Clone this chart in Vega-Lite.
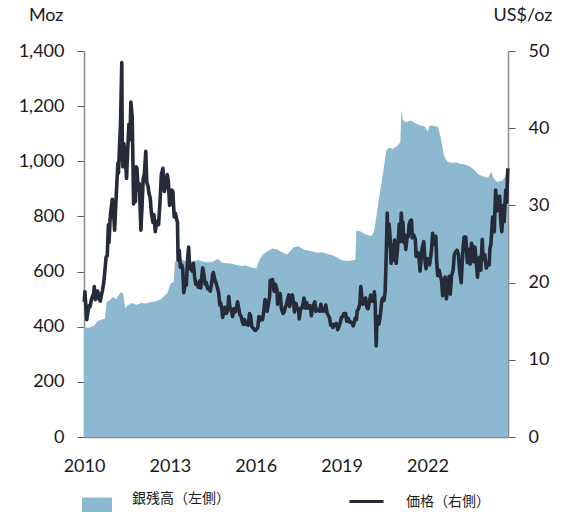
{
"$schema": "https://vega.github.io/schema/vega-lite/v6.json",
"autosize": {"type": "none"},
"padding": {"left": 84, "top": 51, "right": 60, "bottom": 75},
"width": 424,
"height": 386,
"background": "white",
"config": {
 "view": {"stroke": null},
 "font": "Lato",
 "axis": {"labelFont": "Lato", "labelFontSize": 18, "labelColor": "#1a1a1a", "titleFont": "Lato", "titleFontSize": 18, "titleFontWeight": "normal", "titleColor": "#1a1a1a", "grid": false, "domainColor": "#8c8c8c", "domainWidth": 1.5, "tickColor": "#595959", "tickSize": 7, "labelFlush": false, "labelOverlap": false},
 "legend": {"labelFont": "Noto Sans CJK JP", "labelFontSize": 14, "labelColor": "#1a1a1a", "padding": 0}
},
"datasets": {
 "holdings": [
  {"d":"2010-01-01","v":400},{"d":"2010-02-15","v":395},{"d":"2010-04-01","v":400},{"d":"2010-05-15","v":404},{"d":"2010-06-20","v":420},{"d":"2010-08-15","v":426},{"d":"2010-09-25","v":430},{"d":"2010-10-15","v":488},{"d":"2010-11-20","v":495},
  {"d":"2011-01-10","v":508},{"d":"2011-02-15","v":500},{"d":"2011-03-20","v":515},{"d":"2011-04-25","v":527},{"d":"2011-05-20","v":515},{"d":"2011-06-10","v":468},{"d":"2011-07-15","v":478},{"d":"2011-09-01","v":486},{"d":"2011-11-01","v":480},
  {"d":"2012-01-01","v":486},{"d":"2012-03-01","v":484},{"d":"2012-05-01","v":490},{"d":"2012-07-01","v":492},{"d":"2012-09-01","v":498},{"d":"2012-10-15","v":510},{"d":"2012-12-01","v":522},
  {"d":"2013-01-10","v":558},{"d":"2013-02-20","v":562},{"d":"2013-03-05","v":636},{"d":"2013-05-01","v":645},{"d":"2013-07-01","v":640},{"d":"2013-09-01","v":634},{"d":"2013-11-01","v":638},
  {"d":"2014-01-01","v":642},{"d":"2014-03-01","v":636},{"d":"2014-05-01","v":634},{"d":"2014-07-01","v":636},{"d":"2014-09-01","v":646},{"d":"2014-11-01","v":632},
  {"d":"2015-01-01","v":630},{"d":"2015-03-01","v":628},{"d":"2015-05-01","v":624},{"d":"2015-07-01","v":620},{"d":"2015-09-01","v":622},{"d":"2015-11-01","v":616},
  {"d":"2016-01-10","v":612},{"d":"2016-02-15","v":640},{"d":"2016-04-01","v":662},{"d":"2016-06-01","v":675},{"d":"2016-08-01","v":684},{"d":"2016-10-01","v":680},{"d":"2016-12-01","v":670},
  {"d":"2017-02-01","v":662},{"d":"2017-03-20","v":675},{"d":"2017-05-01","v":688},{"d":"2017-07-01","v":692},{"d":"2017-09-01","v":680},{"d":"2017-11-01","v":676},
  {"d":"2018-01-01","v":672},{"d":"2018-03-01","v":668},{"d":"2018-05-01","v":670},{"d":"2018-07-01","v":664},{"d":"2018-09-01","v":660},{"d":"2018-11-01","v":652},
  {"d":"2019-01-01","v":642},{"d":"2019-03-01","v":638},{"d":"2019-05-01","v":640},{"d":"2019-06-25","v":642},{"d":"2019-07-10","v":750},{"d":"2019-09-01","v":745},{"d":"2019-11-01","v":735},
  {"d":"2020-01-15","v":728},{"d":"2020-02-20","v":745},{"d":"2020-03-20","v":800},{"d":"2020-05-01","v":880},{"d":"2020-06-15","v":960},{"d":"2020-07-25","v":1040},{"d":"2020-09-01","v":1050},{"d":"2020-10-15","v":1045},{"d":"2020-12-10","v":1055},
  {"d":"2021-01-20","v":1070},{"d":"2021-02-03","v":1186},{"d":"2021-02-20","v":1150},{"d":"2021-04-01","v":1142},{"d":"2021-06-01","v":1148},{"d":"2021-08-01","v":1138},{"d":"2021-10-01","v":1130},{"d":"2021-12-01","v":1125},
  {"d":"2022-01-01","v":1108},{"d":"2022-02-01","v":1130},{"d":"2022-04-01","v":1128},{"d":"2022-05-15","v":1125},{"d":"2022-06-20","v":1085},{"d":"2022-08-01","v":1020},{"d":"2022-09-10","v":998},{"d":"2022-11-01","v":995},
  {"d":"2023-01-01","v":996},{"d":"2023-03-01","v":990},{"d":"2023-05-01","v":988},{"d":"2023-07-01","v":980},{"d":"2023-08-15","v":970},{"d":"2023-10-15","v":952},{"d":"2023-12-15","v":945},
  {"d":"2024-02-15","v":940},{"d":"2024-03-25","v":962},{"d":"2024-05-01","v":935},{"d":"2024-06-15","v":925},{"d":"2024-08-15","v":930},{"d":"2024-09-20","v":945},{"d":"2024-10-25","v":976}
 ],
 "price": [
  {"d":"2010-01-04","p":17.5},{"d":"2010-01-13","p":18.8},{"d":"2010-01-28","p":16.4},{"d":"2010-02-05","p":15.2},{"d":"2010-02-20","p":16.2},{"d":"2010-03-05","p":17.0},{"d":"2010-03-20","p":16.9},{"d":"2010-04-05","p":17.8},{"d":"2010-04-20","p":18.2},{"d":"2010-05-05","p":18.6},{"d":"2010-05-12","p":19.5},{"d":"2010-05-25","p":17.8},{"d":"2010-06-10","p":18.2},{"d":"2010-06-25","p":18.9},{"d":"2010-07-10","p":17.9},{"d":"2010-07-28","p":17.6},{"d":"2010-08-10","p":18.3},{"d":"2010-08-25","p":19.0},{"d":"2010-09-10","p":20.0},{"d":"2010-09-28","p":21.9},{"d":"2010-10-10","p":23.3},{"d":"2010-10-25","p":23.5},{"d":"2010-11-08","p":27.5},{"d":"2010-11-16","p":25.2},{"d":"2010-11-30","p":28.2},{"d":"2010-12-10","p":29.3},{"d":"2010-12-28","p":30.8},
  {"d":"2011-01-10","p":29.5},{"d":"2011-01-27","p":26.8},{"d":"2011-02-10","p":30.0},{"d":"2011-02-25","p":33.0},{"d":"2011-03-10","p":35.5},{"d":"2011-03-17","p":34.2},{"d":"2011-03-31","p":37.8},{"d":"2011-04-12","p":40.5},{"d":"2011-04-20","p":44.5},{"d":"2011-04-28","p":48.5},{"d":"2011-05-05","p":36.5},{"d":"2011-05-12","p":35.0},{"d":"2011-05-25","p":38.0},{"d":"2011-06-10","p":36.5},{"d":"2011-06-28","p":33.5},{"d":"2011-07-12","p":37.0},{"d":"2011-07-28","p":40.5},{"d":"2011-08-10","p":38.5},{"d":"2011-08-22","p":43.4},{"d":"2011-09-08","p":41.5},{"d":"2011-09-26","p":30.2},{"d":"2011-10-05","p":31.0},{"d":"2011-10-20","p":30.5},{"d":"2011-10-28","p":35.0},{"d":"2011-11-08","p":34.8},{"d":"2011-11-22","p":32.0},{"d":"2011-12-08","p":32.8},{"d":"2011-12-28","p":26.8},
  {"d":"2012-01-10","p":29.5},{"d":"2012-01-27","p":33.5},{"d":"2012-02-10","p":34.0},{"d":"2012-02-28","p":37.0},{"d":"2012-03-12","p":33.0},{"d":"2012-03-28","p":32.5},{"d":"2012-04-10","p":31.5},{"d":"2012-04-25","p":31.0},{"d":"2012-05-10","p":29.0},{"d":"2012-05-30","p":27.8},{"d":"2012-06-12","p":28.8},{"d":"2012-06-28","p":26.6},{"d":"2012-07-12","p":27.5},{"d":"2012-07-30","p":28.0},{"d":"2012-08-10","p":27.5},{"d":"2012-08-28","p":30.5},{"d":"2012-09-14","p":34.0},{"d":"2012-10-04","p":34.8},{"d":"2012-10-22","p":31.8},{"d":"2012-11-08","p":32.5},{"d":"2012-11-28","p":34.0},{"d":"2012-12-12","p":33.2},{"d":"2012-12-28","p":30.0},
  {"d":"2013-01-10","p":30.2},{"d":"2013-01-25","p":32.0},{"d":"2013-02-08","p":31.8},{"d":"2013-02-25","p":28.5},{"d":"2013-03-12","p":29.0},{"d":"2013-03-28","p":28.2},{"d":"2013-04-08","p":27.8},{"d":"2013-04-16","p":22.9},{"d":"2013-04-30","p":24.2},{"d":"2013-05-15","p":22.0},{"d":"2013-05-31","p":22.3},{"d":"2013-06-14","p":21.8},{"d":"2013-06-27","p":18.7},{"d":"2013-07-10","p":19.5},{"d":"2013-07-30","p":19.7},{"d":"2013-08-15","p":23.0},{"d":"2013-08-28","p":24.6},{"d":"2013-09-12","p":21.8},{"d":"2013-09-25","p":21.8},{"d":"2013-10-10","p":21.5},{"d":"2013-10-28","p":22.5},{"d":"2013-11-12","p":20.8},{"d":"2013-11-28","p":19.8},{"d":"2013-12-12","p":19.9},{"d":"2013-12-30","p":19.4},
  {"d":"2014-01-15","p":20.2},{"d":"2014-01-30","p":19.3},{"d":"2014-02-14","p":21.0},{"d":"2014-02-24","p":21.9},{"d":"2014-03-12","p":21.0},{"d":"2014-03-28","p":19.8},{"d":"2014-04-10","p":20.0},{"d":"2014-04-28","p":19.2},{"d":"2014-05-12","p":19.3},{"d":"2014-05-30","p":18.9},{"d":"2014-06-16","p":19.8},{"d":"2014-06-30","p":21.0},{"d":"2014-07-10","p":21.3},{"d":"2014-07-28","p":20.4},{"d":"2014-08-12","p":20.0},{"d":"2014-08-29","p":19.4},{"d":"2014-09-15","p":18.7},{"d":"2014-09-30","p":17.1},{"d":"2014-10-10","p":17.4},{"d":"2014-10-28","p":16.5},{"d":"2014-11-05","p":15.5},{"d":"2014-11-20","p":16.2},{"d":"2014-12-05","p":16.8},{"d":"2014-12-22","p":16.0},
  {"d":"2015-01-10","p":16.4},{"d":"2015-01-22","p":18.2},{"d":"2015-02-06","p":16.8},{"d":"2015-02-25","p":16.5},{"d":"2015-03-12","p":15.6},{"d":"2015-03-31","p":16.6},{"d":"2015-04-15","p":16.2},{"d":"2015-04-28","p":16.6},{"d":"2015-05-15","p":17.5},{"d":"2015-05-29","p":16.7},{"d":"2015-06-12","p":15.9},{"d":"2015-06-30","p":15.6},{"d":"2015-07-15","p":14.9},{"d":"2015-07-28","p":14.6},{"d":"2015-08-14","p":15.2},{"d":"2015-08-26","p":14.6},{"d":"2015-09-10","p":14.6},{"d":"2015-09-30","p":14.5},{"d":"2015-10-14","p":16.0},{"d":"2015-10-28","p":15.7},{"d":"2015-11-12","p":14.3},{"d":"2015-11-30","p":14.1},{"d":"2015-12-14","p":13.9},{"d":"2015-12-30","p":13.8},
  {"d":"2016-01-15","p":14.0},{"d":"2016-01-28","p":14.2},{"d":"2016-02-11","p":15.6},{"d":"2016-02-25","p":15.1},{"d":"2016-03-10","p":15.5},{"d":"2016-03-28","p":15.2},{"d":"2016-04-12","p":16.2},{"d":"2016-04-29","p":17.8},{"d":"2016-05-12","p":17.5},{"d":"2016-05-27","p":16.3},{"d":"2016-06-10","p":17.2},{"d":"2016-06-27","p":18.2},{"d":"2016-07-05","p":20.3},{"d":"2016-07-20","p":19.6},{"d":"2016-08-03","p":20.4},{"d":"2016-08-22","p":18.9},{"d":"2016-09-08","p":19.8},{"d":"2016-09-28","p":19.1},{"d":"2016-10-07","p":17.2},{"d":"2016-10-25","p":17.6},{"d":"2016-11-09","p":18.6},{"d":"2016-11-25","p":16.6},{"d":"2016-12-15","p":16.0},{"d":"2016-12-30","p":16.2},
  {"d":"2017-01-12","p":16.8},{"d":"2017-01-27","p":17.1},{"d":"2017-02-15","p":18.0},{"d":"2017-02-27","p":18.4},{"d":"2017-03-10","p":16.9},{"d":"2017-03-29","p":18.2},{"d":"2017-04-12","p":18.4},{"d":"2017-04-28","p":17.4},{"d":"2017-05-10","p":16.2},{"d":"2017-05-30","p":17.3},{"d":"2017-06-12","p":16.7},{"d":"2017-06-30","p":16.5},{"d":"2017-07-10","p":15.3},{"d":"2017-07-28","p":16.7},{"d":"2017-08-15","p":16.7},{"d":"2017-08-31","p":17.5},{"d":"2017-09-08","p":18.0},{"d":"2017-09-28","p":16.7},{"d":"2017-10-13","p":17.4},{"d":"2017-10-30","p":16.7},{"d":"2017-11-10","p":17.0},{"d":"2017-11-28","p":17.0},{"d":"2017-12-12","p":15.7},{"d":"2017-12-29","p":16.9},
  {"d":"2018-01-12","p":17.2},{"d":"2018-01-25","p":17.5},{"d":"2018-02-08","p":16.3},{"d":"2018-02-22","p":16.5},{"d":"2018-03-08","p":16.5},{"d":"2018-03-28","p":16.3},{"d":"2018-04-11","p":17.2},{"d":"2018-04-30","p":16.3},{"d":"2018-05-15","p":16.3},{"d":"2018-05-30","p":16.4},{"d":"2018-06-14","p":17.1},{"d":"2018-06-29","p":16.1},{"d":"2018-07-13","p":15.8},{"d":"2018-07-30","p":15.5},{"d":"2018-08-15","p":14.5},{"d":"2018-08-30","p":14.6},{"d":"2018-09-12","p":14.2},{"d":"2018-09-28","p":14.6},{"d":"2018-10-12","p":14.5},{"d":"2018-10-26","p":14.7},{"d":"2018-11-13","p":13.9},{"d":"2018-11-28","p":14.3},{"d":"2018-12-12","p":14.7},{"d":"2018-12-31","p":15.5},
  {"d":"2019-01-15","p":15.6},{"d":"2019-01-31","p":16.0},{"d":"2019-02-20","p":16.0},{"d":"2019-02-28","p":15.6},{"d":"2019-03-08","p":15.0},{"d":"2019-03-25","p":15.4},{"d":"2019-04-12","p":14.9},{"d":"2019-04-30","p":14.9},{"d":"2019-05-15","p":14.8},{"d":"2019-05-29","p":14.4},{"d":"2019-06-14","p":14.9},{"d":"2019-06-25","p":15.4},{"d":"2019-07-10","p":15.2},{"d":"2019-07-19","p":16.3},{"d":"2019-08-05","p":16.6},{"d":"2019-08-22","p":17.2},{"d":"2019-09-04","p":19.5},{"d":"2019-09-20","p":17.8},{"d":"2019-10-01","p":17.2},{"d":"2019-10-15","p":17.4},{"d":"2019-11-04","p":18.0},{"d":"2019-11-20","p":16.8},{"d":"2019-12-05","p":16.6},{"d":"2019-12-27","p":17.8},
  {"d":"2020-01-08","p":18.4},{"d":"2020-01-28","p":17.6},{"d":"2020-02-12","p":17.6},{"d":"2020-02-24","p":18.8},{"d":"2020-03-05","p":17.2},{"d":"2020-03-18","p":11.8},{"d":"2020-03-26","p":14.5},{"d":"2020-04-10","p":15.6},{"d":"2020-04-21","p":14.6},{"d":"2020-05-08","p":15.6},{"d":"2020-05-28","p":17.6},{"d":"2020-06-10","p":18.0},{"d":"2020-06-26","p":17.7},{"d":"2020-07-10","p":18.8},{"d":"2020-07-22","p":22.8},{"d":"2020-08-06","p":29.0},{"d":"2020-08-12","p":24.8},{"d":"2020-08-28","p":27.6},{"d":"2020-09-08","p":26.5},{"d":"2020-09-24","p":22.5},{"d":"2020-10-09","p":24.9},{"d":"2020-10-28","p":22.9},{"d":"2020-11-06","p":25.5},{"d":"2020-11-27","p":22.5},{"d":"2020-12-10","p":23.8},{"d":"2020-12-31","p":26.4},
  {"d":"2021-01-06","p":27.6},{"d":"2021-01-19","p":25.3},{"d":"2021-02-01","p":29.0},{"d":"2021-02-12","p":27.3},{"d":"2021-02-22","p":27.8},{"d":"2021-03-05","p":25.2},{"d":"2021-03-17","p":26.2},{"d":"2021-03-31","p":24.3},{"d":"2021-04-15","p":25.8},{"d":"2021-04-30","p":25.9},{"d":"2021-05-12","p":27.5},{"d":"2021-05-28","p":28.0},{"d":"2021-06-11","p":28.1},{"d":"2021-06-21","p":25.8},{"d":"2021-07-07","p":26.2},{"d":"2021-07-30","p":25.6},{"d":"2021-08-09","p":23.4},{"d":"2021-08-27","p":23.9},{"d":"2021-09-10","p":23.8},{"d":"2021-09-29","p":21.5},{"d":"2021-10-14","p":23.3},{"d":"2021-10-26","p":24.5},{"d":"2021-11-15","p":25.3},{"d":"2021-11-30","p":22.9},{"d":"2021-12-14","p":21.8},{"d":"2021-12-30","p":23.1},
  {"d":"2022-01-14","p":23.0},{"d":"2022-01-28","p":22.3},{"d":"2022-02-14","p":23.6},{"d":"2022-02-24","p":24.5},{"d":"2022-03-08","p":26.4},{"d":"2022-03-28","p":24.9},{"d":"2022-04-18","p":26.0},{"d":"2022-04-29","p":22.7},{"d":"2022-05-13","p":20.9},{"d":"2022-05-31","p":21.6},{"d":"2022-06-14","p":20.9},{"d":"2022-06-30","p":20.3},{"d":"2022-07-14","p":18.3},{"d":"2022-07-29","p":20.3},{"d":"2022-08-15","p":20.7},{"d":"2022-08-31","p":17.9},{"d":"2022-09-09","p":18.9},{"d":"2022-09-23","p":18.8},{"d":"2022-10-04","p":20.8},{"d":"2022-10-20","p":18.5},{"d":"2022-11-04","p":20.9},{"d":"2022-11-25","p":21.6},{"d":"2022-12-09","p":23.6},{"d":"2022-12-30","p":24.0},
  {"d":"2023-01-13","p":24.2},{"d":"2023-01-31","p":23.7},{"d":"2023-02-15","p":21.6},{"d":"2023-03-08","p":20.0},{"d":"2023-03-20","p":22.5},{"d":"2023-04-04","p":24.9},{"d":"2023-04-14","p":25.9},{"d":"2023-05-05","p":25.9},{"d":"2023-05-25","p":22.6},{"d":"2023-06-08","p":24.3},{"d":"2023-06-29","p":22.4},{"d":"2023-07-17","p":25.1},{"d":"2023-07-31","p":24.6},{"d":"2023-08-08","p":22.7},{"d":"2023-08-30","p":24.6},{"d":"2023-09-14","p":22.8},{"d":"2023-10-02","p":20.7},{"d":"2023-10-20","p":23.2},{"d":"2023-11-03","p":23.3},{"d":"2023-11-13","p":21.6},{"d":"2023-12-01","p":25.6},{"d":"2023-12-13","p":23.0},
  {"d":"2024-01-02","p":23.6},{"d":"2024-01-22","p":21.9},{"d":"2024-02-09","p":22.5},{"d":"2024-02-28","p":22.3},{"d":"2024-03-08","p":24.4},{"d":"2024-03-21","p":25.0},{"d":"2024-04-12","p":28.5},{"d":"2024-04-23","p":27.2},{"d":"2024-05-03","p":26.6},{"d":"2024-05-20","p":32.0},{"d":"2024-06-07","p":29.3},{"d":"2024-06-20","p":30.9},{"d":"2024-07-10","p":31.2},{"d":"2024-07-25","p":27.9},{"d":"2024-08-07","p":26.6},{"d":"2024-08-26","p":30.0},{"d":"2024-09-06","p":27.9},{"d":"2024-09-26","p":32.0},{"d":"2024-10-08","p":30.4},{"d":"2024-10-22","p":34.8}
 ]
},
"layer": [
 {
  "data": {"name": "holdings"},
  "mark": {"type": "area", "interpolate": "linear"},
  "encoding": {
   "x": {"field": "d", "type": "temporal", "scale": {"type": "utc", "domain": [1262304000000, 1729814400000], "nice": false},
     "axis": {"title": null, "values": [1262304000000, 1356998400000, 1451606400000, 1546300800000, 1640995200000], "format": "%Y", "ticks": false, "tickSize": 0, "labelPadding": 20}},
   "y": {"field": "v", "type": "quantitative", "scale": {"domain": [0, 1400], "nice": false},
     "axis": {"orient": "left", "values": [0, 200, 400, 600, 800, 1000, 1200, 1400], "format": ",.0f", "title": "Moz", "titleAngle": 0, "titleAlign": "right", "titleBaseline": "middle", "titleX": -21, "titleY": -36, "labelPadding": 13}},
   "fill": {"datum": "銀残高（左側）", "type": "nominal", "scale": {"range": ["#8db9d0"]},
     "legend": {"title": null, "orient": "none", "legendX": -2, "legendY": 433, "symbolType": "M-1,-0.1H1V1.1H-1Z", "symbolSize": 900, "symbolStrokeWidth": 0, "symbolOpacity": 1, "labelOffset": 20}}
  }
 },
 {
  "data": {"name": "price"},
  "mark": {"type": "line", "strokeWidth": 3.6, "strokeJoin": "round"},
  "encoding": {
   "x": {"field": "d", "type": "temporal"},
   "y": {"field": "p", "type": "quantitative", "scale": {"domain": [0, 50], "nice": false},
     "axis": {"orient": "right", "values": [0, 10, 20, 30, 40, 50], "title": "US$/oz", "titleAngle": 0, "titleAlign": "right", "titleBaseline": "middle", "titleX": 44, "titleY": -36, "labelPadding": 13}},
   "stroke": {"datum": "価格（右側）", "type": "nominal", "scale": {"range": ["#252b38"]},
     "legend": {"title": null, "orient": "none", "legendX": 264, "legendY": 432, "symbolType": "stroke", "symbolSize": 1156, "symbolStrokeWidth": 3, "labelOffset": 21}}
  }
 }
],
"resolve": {"scale": {"y": "independent", "fill": "independent", "stroke": "independent"}}
}
